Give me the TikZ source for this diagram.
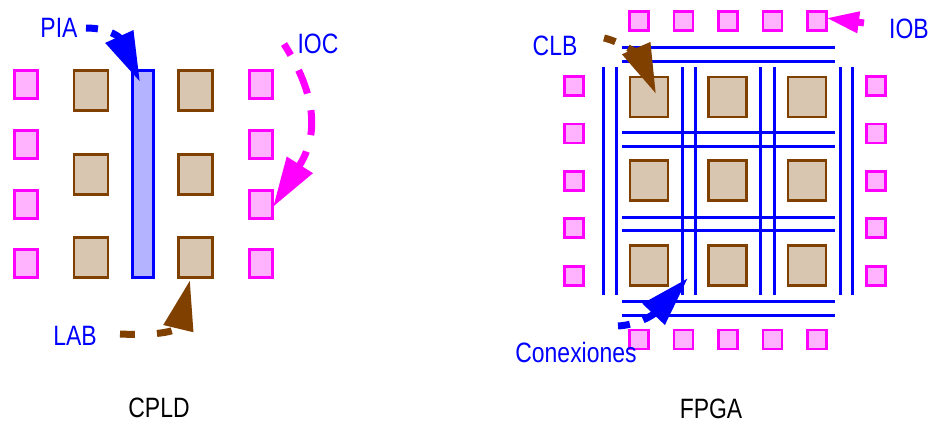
\documentclass[tikz,border=0pt]{standalone}
\usepackage{fontspec}
\setmainfont{Liberation Sans}[FakeStretch=0.82]
\usetikzlibrary{arrows.meta}
\definecolor{padfill}{RGB}{255,179,255}
\definecolor{padline}{RGB}{255,0,255}
\definecolor{labline}{RGB}{128,64,0}
\definecolor{labfill}{RGB}{217,198,176}
\definecolor{piafill}{RGB}{179,179,255}
\definecolor{wire}{RGB}{0,0,255}
\begin{document}
\begin{tikzpicture}[x=1pt,y=-1pt,
  pad/.style={draw=padline, fill=padfill, line width=3pt, minimum width=23pt, minimum height=28pt, inner sep=0pt, outer sep=0pt},
  fpad/.style={pad, line width=2.8pt, minimum width=19pt, minimum height=19pt},
  blk/.style={draw=labline, fill=labfill, line width=2.8pt, minimum width=34pt, minimum height=40pt, inner sep=0pt, outer sep=0pt},
  clb/.style={blk, line width=2.4pt, minimum width=38pt, minimum height=40pt},
  wireline/.style={draw=wire, line width=3pt},
  lbl/.style={font=\fontsize{28pt}{30pt}\selectfont, text=wire, anchor=base, inner sep=0pt},
  capt/.style={lbl, text=black},
  callout/.style={line width=7pt, dash pattern=on 12pt off 14pt, -{Triangle[length=50pt,width=29pt]}}
]
\useasboundingbox (0,0) rectangle (928,423);

% ---------------- CPLD ----------------
\foreach \y [count=\i] in {84.5,144,204,263.5} {
  \node[pad] (cl\i) at (26.3,\y) {};
  \node[pad] (cr\i) at (261,\y) {};
}
\foreach \y [count=\i] in {90.3,174.3,257.7} {
  \node[blk] (labl\i) at (91,\y) {};
  \node[blk] (labr\i) at (195.7,\y) {};
}
\node[draw=wire, fill=piafill, line width=3pt, minimum width=21pt, minimum height=207pt, inner sep=0pt] (pia) at (143,174) {};

\node[lbl] (tpia) at (59,37) {PIA};
\node[lbl] (tioc) at (318,53) {IOC};
\node[lbl] (tlab) at (75,345) {LAB};
\node[capt] (tcpld) at (159,417) {CPLD};

\coordinate (piaTail) at (86,28);
\coordinate (piaTip) at (140,82);
\coordinate (iocTail) at (284,44);
\coordinate (iocTip) at (273,207);
\coordinate (labTail) at (120,334);
\coordinate (labTip) at (190,280);

% ---------------- FPGA ----------------
\foreach \y in {47,61,132,146,217,230,301,315}
  \draw[wireline] (622,\y) -- (835,\y);
\foreach \x in {603,616,682,695,760,774,840,852}
  \draw[wireline] (\x,67) -- (\x,295);

\foreach \i in {0,...,4} {
  \node[fpad] (ft\i) at (639+44.5*\i,21) {};
  \node[fpad] (fb\i) at (639+44.5*\i,339.5) {};
  \node[fpad] (fl\i) at (574,86+47.4*\i) {};
  \node[fpad] (fr\i) at (876,86+47.4*\i) {};
}
\foreach \x [count=\i] in {649,727.5,807}
  \foreach \y [count=\j] in {97,180.5,265.5}
    \node[clb] (clb\i\j) at (\x,\y) {};

\node[lbl] (tclb) at (555,55) {CLB};
\node[lbl] (tiob) at (909,38) {IOB};
\node[lbl] (tcon) at (576,362) {Conexiones};
\node[capt] (tfpga) at (711,418) {FPGA};

\coordinate (clbTail) at (604,38);
\coordinate (clbTip) at (656,94);
\coordinate (iobTail) at (864,23);
\coordinate (iobTip) at (826,18);
\coordinate (conTail) at (618,326);
\coordinate (conTip) at (688,278);

% ---------------- callout arrows ----------------
\draw[callout, draw=wire] (piaTail) .. controls (110,28) and (120,38) .. (piaTip);
\draw[callout, draw=padline, dash pattern=on 25pt off 17pt, dash phase=12pt] (iocTail) .. controls (312,88) and (322,130) .. (iocTip);
\draw[callout, draw=labline, dash pattern=on 15pt off 22pt] (labTail) .. controls (162,336) and (178,330) .. (labTip);
\draw[callout, draw=labline] (clbTail) .. controls (622,42) and (640,57) .. (clbTip);
\draw[callout, draw=padline, -{Triangle[length=33pt,width=20pt]}] (iobTail) -- (iobTip);
\draw[callout, draw=wire] (conTail) .. controls (636,325) and (652,316) .. (conTip);
\end{tikzpicture}
\end{document}
